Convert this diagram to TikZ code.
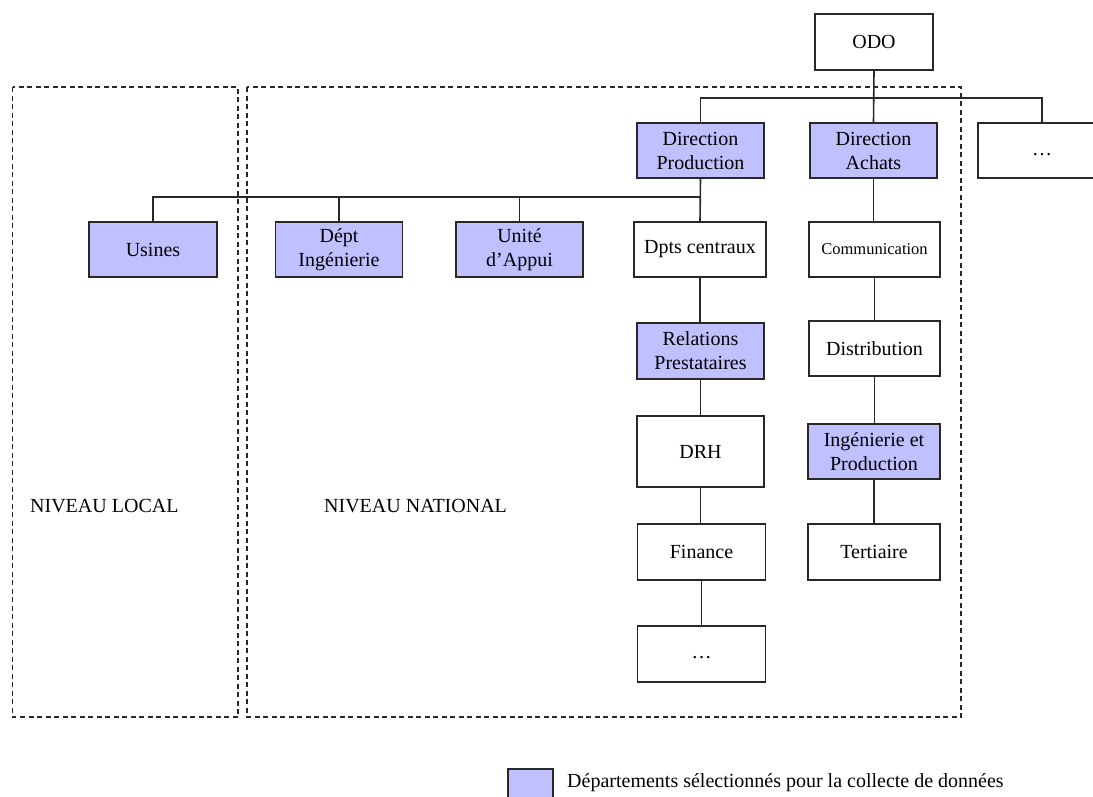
\documentclass[tikz,border=0pt]{standalone}
\usepackage{fontspec}
\setmainfont{Liberation Serif}
\definecolor{sel}{RGB}{192,192,255}
\definecolor{edge}{RGB}{40,40,40}
\begin{document}
\begin{tikzpicture}[x=1pt,y=-1pt,
  box/.style={draw=edge, line width=1.5pt, fill=white, align=center, inner sep=0pt,
    font=\fontsize{20}{24}\selectfont},
  selbox/.style={box, fill=sel},
  conn/.style={draw=edge, line width=1.6pt},
  dashbox/.style={draw=edge, line width=1.3pt, dash pattern=on 5pt off 3.5pt},
  lbl/.style={inner sep=0pt, font=\fontsize{20}{24}\selectfont}
]
\useasboundingbox (0,0) rectangle (1093,796);
\clip (0,0) rectangle (1093,796);

% level frames
\draw[dashbox] (12.5,87) rectangle (238,717);
\draw[dashbox] (247,87) rectangle (961,717);

% nodes
\node[box, minimum width=118pt, minimum height=56pt] (odo) at (874,42) {ODO};
\node[selbox, minimum width=127pt, minimum height=55pt] (dprod) at (700.5,150.5) {Direction\\Production};
\node[selbox, minimum width=127pt, minimum height=55pt] (dach) at (873.5,150.5) {Direction\\Achats};
\node[box, minimum width=128pt, minimum height=55pt] (dots1) at (1042,150.5) {\strut…};

\node[selbox, minimum width=128pt, minimum height=55pt] (usines) at (153,249.5) {Usines};
\node[selbox, minimum width=127pt, minimum height=55pt] (dept) at (339,249.5) {Dépt\\Ingénierie};
\node[selbox, minimum width=127pt, minimum height=55pt] (unite) at (519.5,249.5) {Unité\\d’Appui};
\node[box, minimum width=132pt, minimum height=55pt] (dpts) at (700,249.5) {Dpts centraux};
\node[box, minimum width=131pt, minimum height=55pt, font=\fontsize{16.5}{20}\selectfont] (comm) at (874.5,249.5) {Communication};

\node[selbox, minimum width=127pt, minimum height=56pt] (relat) at (700.5,351) {Relations\\Prestataires};
\node[box, minimum width=131pt, minimum height=55pt] (distr) at (874.5,348.5) {Distribution};

\node[box, minimum width=127pt, minimum height=71pt] (drh) at (700.5,451.5) {DRH};
\node[selbox, minimum width=132pt, minimum height=55pt] (ingp) at (874,451.5) {Ingénierie et\\Production};

\node[box, minimum width=128pt, minimum height=56pt] (fin) at (701.5,552) {Finance};
\node[box, minimum width=132pt, minimum height=56pt] (tert) at (874,552) {Tertiaire};
\node[box, minimum width=128pt, minimum height=56pt] (dots2) at (701.5,654) {\strut…};

% bus coordinates
\coordinate (bar1) at (874,98);
\coordinate (bar2) at (700.5,197);

% connectors
\draw[conn] (odo.south) -- (dach.north);
\draw[conn] (dprod.north) |- (bar1) -| (dots1.north);
\draw[conn] (dprod.south) -- (dpts.north);
\draw[conn] (usines.north) |- (bar2);
\draw[conn] (dept.north) -- (dept.north |- bar2);
\draw[conn] (unite.north) -- (unite.north |- bar2);
\draw[conn] (dpts.south) -- (dpts.south |- relat.north);
\draw[conn] (relat.south) -- (drh.north);
\draw[conn] (drh.south) -- (drh.south |- fin.north);
\draw[conn] (fin.south) -- (dots2.north);
\draw[conn] (dach.south) -- (dach.south |- comm.north);
\draw[conn] (comm.south) -- (distr.north);
\draw[conn] (distr.south) -- (distr.south |- ingp.north);
\draw[conn] (ingp.south) -- (tert.north);

% level labels
\node[lbl, anchor=base west] (loc) at (30,512) {NIVEAU LOCAL};
\node[lbl, anchor=base west] (nat) at (324,512) {NIVEAU NATIONAL};

% legend
\node[draw=edge, line width=1.5pt, fill=sel, inner sep=0pt, minimum width=45pt, minimum height=36pt] (leg) at (530.5,787) {};
\node[lbl, anchor=base west] (legt) at (567,787) {Départements sélectionnés pour la collecte de données};
\end{tikzpicture}
\end{document}
